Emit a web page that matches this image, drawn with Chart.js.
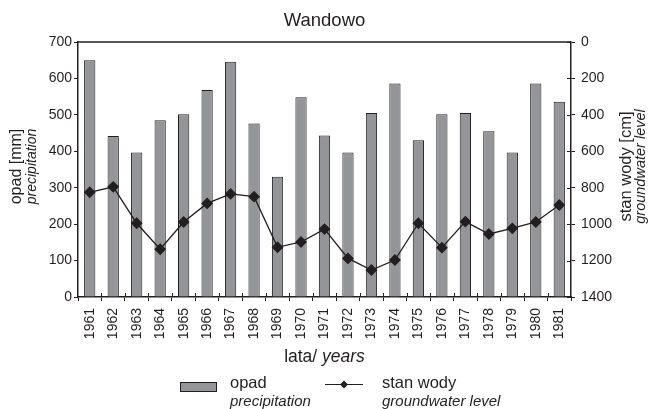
<!doctype html>
<html lang="pl">
<head>
<meta charset="utf-8">
<title>Wandowo</title>
<script src="https://cdn.jsdelivr.net/npm/chart.js"></script>
<style>
  body { margin: 0; background: #fff; }
</style>
</head>
<body>
<canvas id="chart" width="651" height="409"></canvas>
<script>
  //--------------------------------- data ---------------------------------
  const years = ['1961', '1962', '1963', '1964', '1965', '1966', '1967', '1968', '1969', '1970', '1971',
    '1972', '1973', '1974', '1975', '1976', '1977', '1978', '1979', '1980', '1981']
  // opad [mm] / precipitation
  const opad = [650, 442, 397, 485, 502, 568, 646, 476, 330, 548, 443,
    397, 505, 586, 430, 502, 505, 455, 397, 586, 536]
  // stan wody [cm] / groundwater level
  const stanWody = [825, 795, 995, 1138, 988, 886, 834, 849, 1127, 1098, 1027,
    1188, 1252, 1197, 995, 1129, 986, 1054, 1023, 988, 895]
  const opadTicks = [0, 100, 200, 300, 400, 500, 600, 700]
  const wodaTicks = [0, 200, 400, 600, 800, 1000, 1200, 1400]

  const ink = '#231f20'
  const font = '"Liberation Sans", Arial, sans-serif'

  // titles, top frame line, inner tick halves and legend are drawn by hand
  const extras = {
    id: 'extras',
    afterDraw(chart) {
      const { ctx, chartArea: a } = chart
      const x = chart.scales.x, y2 = chart.scales.y2
      ctx.save()
      ctx.strokeStyle = ink
      ctx.lineWidth = 1.3
      ctx.beginPath()
      ctx.moveTo(a.left, a.top)
      ctx.lineTo(a.right, a.top)
      ctx.stroke()

      // tick marks cross the bottom and right axes
      ctx.lineWidth = 1
      ctx.beginPath()
      for (let i = 1; i < years.length; i++) {
        const px = Math.round((x.getPixelForValue(i - 1) + x.getPixelForValue(i)) / 2) + 0.5
        ctx.moveTo(px, a.bottom)
        ctx.lineTo(px, a.bottom - 4)
      }
      wodaTicks.forEach(v => {
        const py = Math.round(y2.getPixelForValue(v)) + 0.5
        ctx.moveTo(a.right, py)
        ctx.lineTo(a.right - 4, py)
      })
      ctx.stroke()

      ctx.fillStyle = ink
      ctx.textAlign = 'center'
      ctx.textBaseline = 'middle'
      ctx.font = `18.5px ${font}`
      ctx.fillText('Wandowo', (a.left + a.right) / 2, 21)

      const midY = (a.top + a.bottom) / 2 - 3
      // left axis title
      ctx.save()
      ctx.translate(17, midY)
      ctx.rotate(-Math.PI / 2)
      ctx.font = `16px ${font}`
      ctx.fillText('opad [mm]', 0, 0)
      ctx.font = `italic 14px ${font}`
      ctx.fillText('precipitation', 0, 15)
      ctx.restore()
      // right axis title
      ctx.save()
      ctx.translate(626, midY)
      ctx.rotate(-Math.PI / 2)
      ctx.font = `16.5px ${font}`
      ctx.fillText('stan wody [cm]', 0, 0)
      ctx.font = `italic 14.5px ${font}`
      ctx.fillText('groundwater level', 0, 15)
      ctx.restore()

      // x title
      const cx = (a.left + a.right) / 2
      ctx.font = `17.5px ${font}`
      const w1 = ctx.measureText('lata/ ').width
      ctx.font = `italic 17.5px ${font}`
      const w2 = ctx.measureText('years').width
      ctx.textAlign = 'left'
      ctx.font = `17.5px ${font}`
      ctx.fillText('lata/ ', cx - (w1 + w2) / 2, 357)
      ctx.font = `italic 17.5px ${font}`
      ctx.fillText('years', cx - (w1 + w2) / 2 + w1, 357)

      // legend
      ctx.fillStyle = '#939598'
      ctx.fillRect(180, 382, 36, 9)
      ctx.strokeRect(180.5, 382.5, 36, 9)
      ctx.beginPath()
      ctx.moveTo(325, 384.5)
      ctx.lineTo(363, 384.5)
      ctx.stroke()
      ctx.fillStyle = ink
      ctx.beginPath()
      ctx.moveTo(344, 380.5); ctx.lineTo(348, 384.5); ctx.lineTo(344, 388.5); ctx.lineTo(340, 384.5)
      ctx.closePath()
      ctx.fill()
      ctx.font = `16.5px ${font}`
      ctx.fillText('opad', 230, 383)
      ctx.fillText('stan wody', 382, 383)
      ctx.font = `italic 15px ${font}`
      ctx.fillText('precipitation', 230, 402)
      ctx.fillText('groundwater level', 382, 402)
      ctx.restore()
    }
  }

  new Chart(document.getElementById('chart'), {
    type: 'bar',
    data: {
      labels: years,
      datasets: [{
        type: 'line',
        label: 'stan wody',
        data: stanWody,
        yAxisID: 'y2',
        borderColor: ink,
        borderWidth: 1.3,
        pointStyle: 'rectRot',
        pointRadius: 5,
        pointBackgroundColor: ink,
        pointBorderColor: ink,
        tension: 0,
        order: 0
      }, {
        label: 'opad',
        data: opad,
        yAxisID: 'y',
        backgroundColor: '#939598',
        borderColor: ink,
        borderWidth: 1,
        barPercentage: 0.48,
        categoryPercentage: 1,
        order: 1
      }]
    },
    options: {
      responsive: false,
      animation: false,
      layout: { padding: { top: 42, left: 0, right: 0, bottom: 0 } },
      plugins: { legend: { display: false }, title: { display: false }, tooltip: { enabled: false } },
      scales: {
        x: {
          grid: { drawOnChartArea: false, tickLength: 4, color: ink, lineWidth: 1 },
          border: { color: ink, width: 1.5 },
          ticks: {
            color: ink, font: { family: font, size: 14 },
            minRotation: 90, maxRotation: 90, autoSkip: false, padding: 7
          },
          afterFit: s => { s.height = 112 }
        },
        y: {
          position: 'left',
          min: 0, max: 700,
          afterBuildTicks: s => { s.ticks = opadTicks.map(v => ({ value: v })) },
          grid: { drawOnChartArea: false, tickLength: 4, color: ink },
          border: { color: ink, width: 1.5 },
          ticks: { color: ink, font: { family: font, size: 14 }, padding: 2 },
          afterFit: s => { s.width = 78 }
        },
        y2: {
          position: 'right',
          reverse: true,
          min: 0, max: 1400,
          afterBuildTicks: s => { s.ticks = wodaTicks.map(v => ({ value: v })) },
          grid: { drawOnChartArea: false, tickLength: 4, color: ink },
          border: { color: ink, width: 1.5 },
          ticks: { color: ink, font: { family: font, size: 14 }, padding: 6, callback: v => String(v) },
          afterFit: s => { s.width = 80 }
        }
      }
    },
    plugins: [extras]
  })
</script>
</body>
</html>
